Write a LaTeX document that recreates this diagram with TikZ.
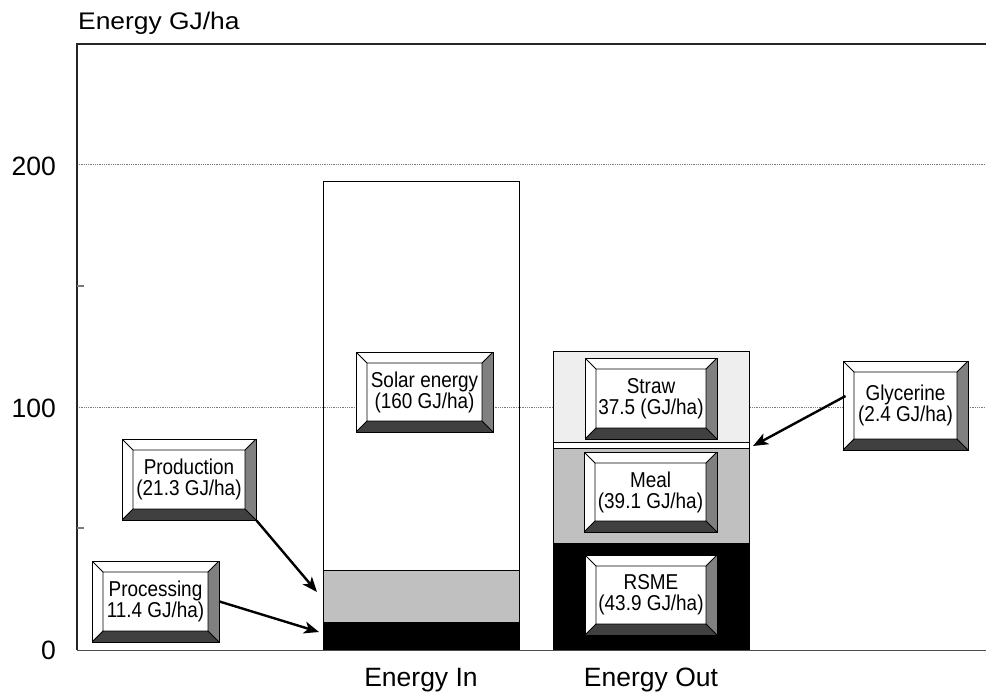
\documentclass[tikz,border=0pt]{standalone}
\usepackage{fontspec}
\setmainfont{Liberation Sans}
\usetikzlibrary{arrows.meta}
\definecolor{barmid}{HTML}{C0C0C0}
\definecolor{barlight}{HTML}{EEEEEE}
\definecolor{bevright}{HTML}{808080}
\definecolor{bevbottom}{HTML}{404040}
\definecolor{gridc}{HTML}{7A7A7A}
\newcommand{\sqz}[1]{\scalebox{0.88}[1]{#1}}
\tikzset{
  bevbox/.style={draw=black, line width=0.9pt, fill=white, inner sep=0pt, align=center,
    font=\fontsize{21.5}{21}\selectfont,
    path picture={
      \path (path picture bounding box.north west) coordinate (bnw)
            (path picture bounding box.north east) coordinate (bne)
            (path picture bounding box.south east) coordinate (bse)
            (path picture bounding box.south west) coordinate (bsw);
      \path ([xshift=11pt,yshift=-11pt]bnw) coordinate (inw)
            ([xshift=-11pt,yshift=-11pt]bne) coordinate (ine)
            ([xshift=-11pt,yshift=11pt]bse) coordinate (ise)
            ([xshift=11pt,yshift=11pt]bsw) coordinate (isw);
      \fill[bevright] (bne) -- (bse) -- (ise) -- (ine) -- cycle;
      \fill[bevbottom] (bse) -- (bsw) -- (isw) -- (ise) -- cycle;
      \draw[line width=0.8pt] (inw) rectangle (ise) (bnw) -- (inw) (bne) -- (ine) (bse) -- (ise) (bsw) -- (isw);
    }},
  barseg/.style={draw=black, line width=0.9pt},
  gridline/.style={draw=gridc, line width=0.8pt, densely dotted},
  frameline/.style={draw=black!85, line width=1.3pt},
  tickmark/.style={draw=gridc, line width=1.3pt},
  axlabel/.style={font=\fontsize{26.5}{28}\selectfont, inner sep=0pt},
  arr/.style={line width=2.4pt, -{Stealth[length=15pt,width=12pt,inset=4pt]}},
}
\begin{document}
\begin{tikzpicture}[x=1pt,y=-1pt]
\useasboundingbox (0,0) rectangle (986,698);
% gridlines
\draw[gridline] (77,164) -- (986,164);
\draw[gridline] (77,407) -- (986,407);
% bar Energy In
\draw[barseg, fill=black] (323,650) rectangle (519,622.3);
\draw[barseg, fill=barmid] (323,622.3) rectangle (519,570.5);
\draw[barseg] (323,570.5) rectangle (519,181.7);
% bar Energy Out
\draw[barseg, fill=black] (553,650) rectangle (749,543.3);
\draw[barseg, fill=barmid] (553,543.3) rectangle (749,448.3);
\draw[barseg, fill=white] (553,448.3) rectangle (749,442.5);
\draw[barseg, fill=barlight] (553,442.5) rectangle (749,351.4);
% frame
\draw[frameline] (77,650) -- (77,44) -- (986,44);
\draw[frameline, line width=1pt, draw=black!70] (77,650) -- (986,650);
\draw[tickmark] (77,286) -- (84,286);
\draw[tickmark] (77,528) -- (84,528);
% axis labels
\node[axlabel, anchor=base west] (ylab) at (78,30) {\scalebox{1.1}[1]{\fontsize{24}{26}\selectfont Energy GJ/ha}};
\node[axlabel, anchor=east] (t200) at (56,166) {200};
\node[axlabel, anchor=east] (t100) at (56,408) {100};
\node[axlabel, anchor=east] (t0) at (56,650) {0};
\node[axlabel] (cin) at (421,680) {Energy In};
\node[axlabel] (cout) at (651,680) {Energy Out};
% label boxes
\node[bevbox, minimum width=127pt, minimum height=81pt] (proc) at (155.5,601.5) {\sqz{Processing}\\\sqz{11.4 GJ/ha)}};
\node[bevbox, minimum width=134pt, minimum height=81pt] (prod) at (189,479.5) {\sqz{Production}\\\sqz{(21.3 GJ/ha)}};
\node[bevbox, minimum width=137pt, minimum height=80pt] (solar) at (424.5,392) {\sqz{Solar energy}\\\sqz{(160 GJ/ha)}};
\node[bevbox, minimum width=132pt, minimum height=81pt] (straw) at (651,398.5) {\sqz{Straw}\\\sqz{37.5 (GJ/ha)}};
\node[bevbox, minimum width=133pt, minimum height=80pt] (meal) at (650.5,492) {\sqz{Meal}\\\sqz{(39.1 GJ/ha)}};
\node[bevbox, minimum width=132pt, minimum height=80pt] (rsme) at (651,595) {\sqz{RSME}\\\sqz{(43.9 GJ/ha)}};
\node[bevbox, minimum width=125pt, minimum height=89pt] (glyc) at (905.5,405.5) {\sqz{Glycerine}\\\sqz{(2.4 GJ/ha)}};
% arrows
\coordinate (proctip) at (319,632);
\coordinate (prodtip) at (317,592);
\coordinate (glyctip) at (753,446);
\draw[arr] (proc.east) -- (proctip);
\draw[arr] (prod.south east) -- (prodtip);
\draw[arr] ([xshift=3pt,yshift=9.5pt]glyc.west) -- (glyctip);
\end{tikzpicture}
\end{document}
